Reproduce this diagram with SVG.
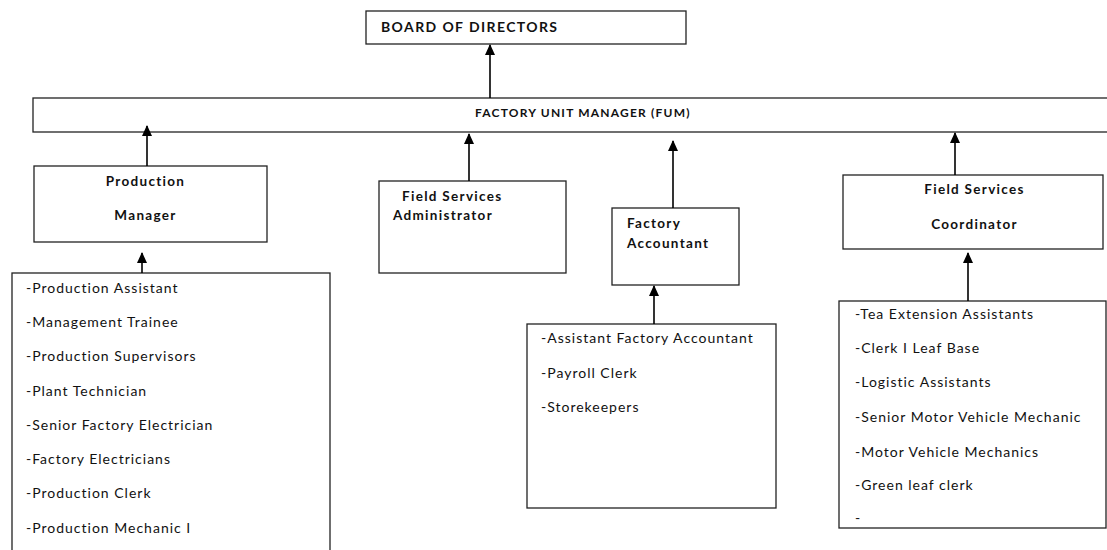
<svg xmlns="http://www.w3.org/2000/svg" width="1107" height="550" viewBox="0 0 1107 550">
<style>
.box{fill:#fff;stroke:#222;stroke-width:1.3}
.b{font-family:Lato,"Liberation Sans",sans-serif;font-weight:bold;font-size:13.5px;letter-spacing:1.3px;fill:#111}
.r{font-family:Lato,"Liberation Sans",sans-serif;font-size:14px;letter-spacing:1px;fill:#111}
.c{stroke:#000;stroke-width:1.6;fill:none;marker-end:url(#up)}
</style>
<defs>
<marker id="up" markerUnits="userSpaceOnUse" markerWidth="10" markerHeight="12" viewBox="0 0 10 12" refX="5" refY="1" orient="0">
<path d="M5,0 L10,11 L0,11 Z" fill="#000"/>
</marker>
</defs>
<rect width="1107" height="550" fill="#fff"/>
<g id="board">
<rect class="box" x="366" y="11" width="320" height="33"/>
<text class="b" x="381" y="32" style="font-size:14px;letter-spacing:1.4px">BOARD OF DIRECTORS</text>
</g>
<g id="fum">
<rect class="box" x="33" y="98" width="1080" height="34"/>
<text class="b" x="475" y="117" style="font-size:12px;letter-spacing:1.2px">FACTORY UNIT MANAGER (FUM)</text>
</g>
<g id="production-manager">
<rect class="box" x="34" y="166" width="233" height="76"/>
<text class="b" x="145.5" y="186" text-anchor="middle">Production</text>
<text class="b" x="145.5" y="220" text-anchor="middle">Manager</text>
</g>
<g id="field-services-administrator">
<rect class="box" x="379" y="181" width="187" height="92"/>
<text class="b" x="402" y="201">Field Services</text>
<text class="b" x="393" y="220">Administrator</text>
</g>
<g id="factory-accountant">
<rect class="box" x="612" y="208" width="127" height="77"/>
<text class="b" x="627" y="228">Factory</text>
<text class="b" x="627" y="248">Accountant</text>
</g>
<g id="field-services-coordinator">
<rect class="box" x="843" y="175" width="260" height="74"/>
<text class="b" x="974.5" y="194" text-anchor="middle">Field Services</text>
<text class="b" x="974.5" y="229" text-anchor="middle">Coordinator</text>
</g>
<g id="production-staff">
<rect class="box" x="12" y="273" width="318" height="290"/>
<text class="r" x="26" y="293">-Production Assistant</text>
<text class="r" x="26" y="327">-Management Trainee</text>
<text class="r" x="26" y="361">-Production Supervisors</text>
<text class="r" x="26" y="396">-Plant Technician</text>
<text class="r" x="26" y="430">-Senior Factory Electrician</text>
<text class="r" x="26" y="464">-Factory Electricians</text>
<text class="r" x="26" y="498">-Production Clerk</text>
<text class="r" x="26" y="533">-Production Mechanic I</text>
</g>
<g id="accounts-staff">
<rect class="box" x="527" y="324" width="249" height="184"/>
<text class="r" x="541" y="343">-Assistant Factory Accountant</text>
<text class="r" x="541" y="378">-Payroll Clerk</text>
<text class="r" x="541" y="412">-Storekeepers</text>
</g>
<g id="field-staff">
<rect class="box" x="839" y="301" width="267" height="227"/>
<text class="r" x="855" y="319">-Tea Extension Assistants</text>
<text class="r" x="855" y="353">-Clerk I Leaf Base</text>
<text class="r" x="855" y="387">-Logistic Assistants</text>
<text class="r" x="855" y="422">-Senior Motor Vehicle Mechanic</text>
<text class="r" x="855" y="457">-Motor Vehicle Mechanics</text>
<text class="r" x="855" y="490">-Green leaf clerk</text>
<text class="r" x="855" y="523">-</text>
</g>
<g id="connectors">
<line class="c" x1="490" y1="98" x2="490" y2="45"/>
<line class="c" x1="147" y1="166" x2="147" y2="126"/>
<line class="c" x1="469" y1="181" x2="469" y2="134"/>
<line class="c" x1="673" y1="208" x2="673" y2="141"/>
<line class="c" x1="955" y1="175" x2="955" y2="133"/>
<line class="c" x1="142" y1="273" x2="142" y2="253"/>
<line class="c" x1="654" y1="324" x2="654" y2="286"/>
<line class="c" x1="968" y1="301" x2="968" y2="253"/>
</g>
</svg>
